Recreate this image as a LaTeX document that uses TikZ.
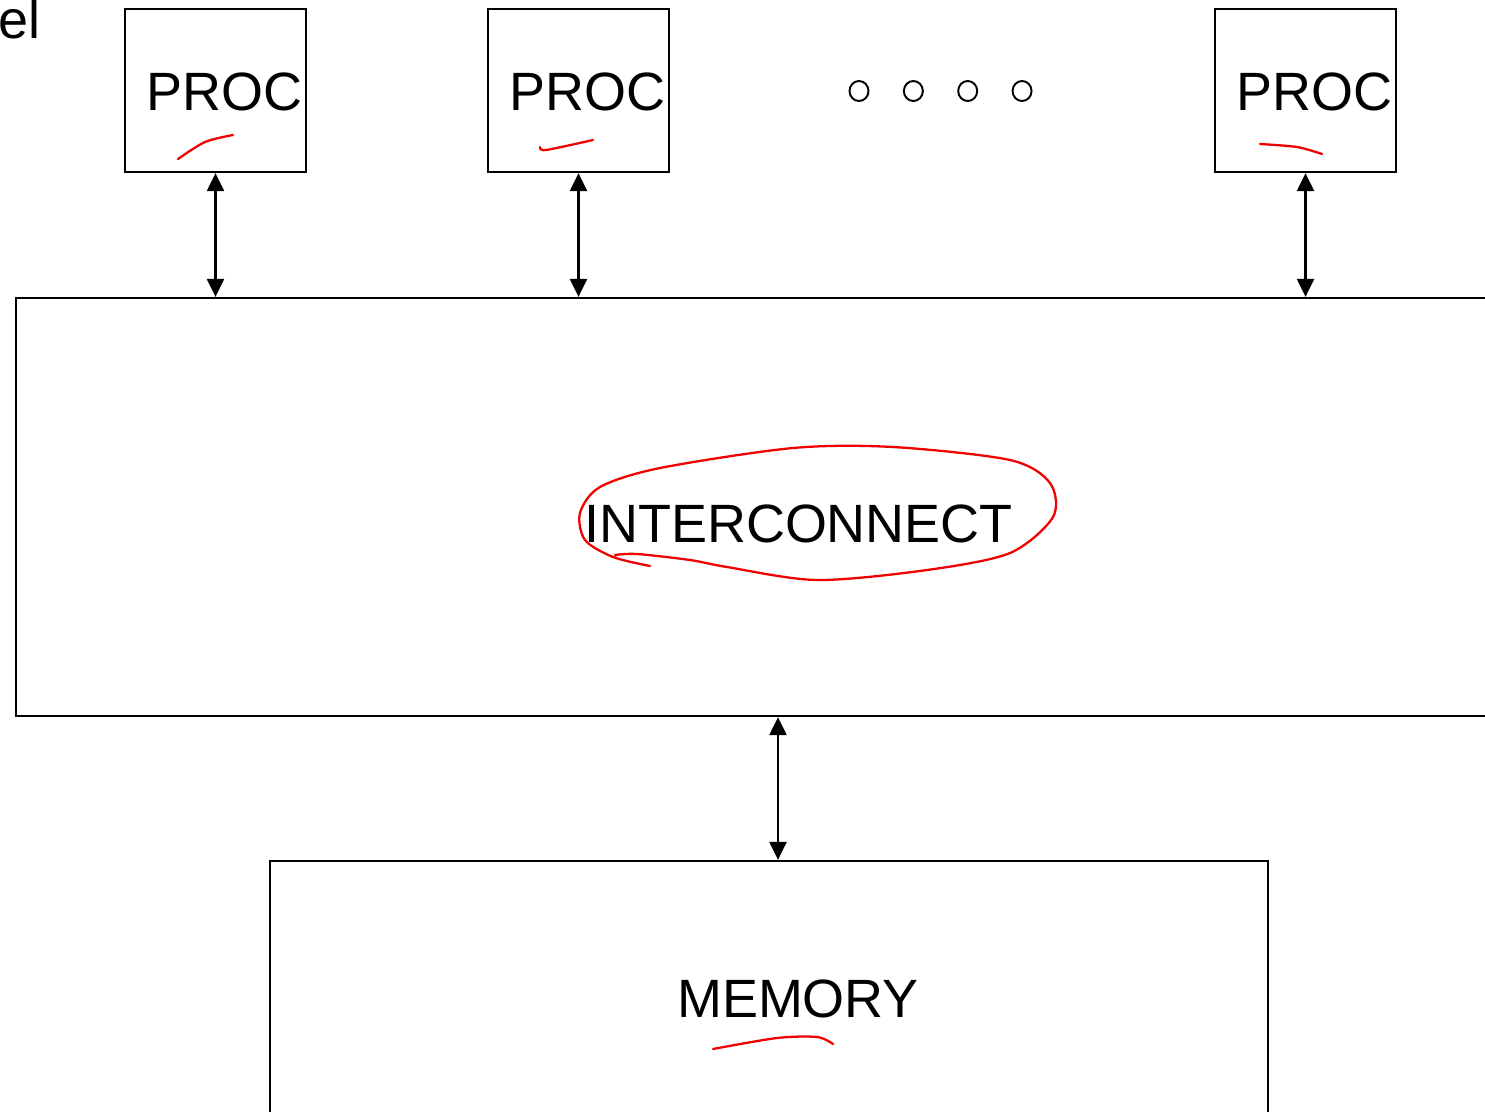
\documentclass[tikz,border=0pt]{standalone}
\usepackage{fontspec}
\setmainfont{Liberation Sans}
\usepackage{tikz}
\usetikzlibrary{arrows.meta,positioning,calc}
\definecolor{penred}{RGB}{240,0,0}

\begin{document}
\begin{tikzpicture}[font=\fontsize{30.7}{36}\selectfont,
    box/.style={draw, line width=1.3pt, inner sep=0pt},
    procbox/.style={box, minimum width=3.62cm, minimum height=3.26cm},
    lbl/.style={inner sep=0pt, anchor=base},
    biarrow/.style={line width=1.3pt, {Triangle[length=0.36cm,width=0.34cm]}-{Triangle[length=0.36cm,width=0.34cm]}},
    pen/.style={draw=penred, line width=1.3pt, line cap=round, line join=round}]
  \clip (0,0) rectangle (29.7,-22.22);

  % Title remnant
  \node[lbl, anchor=base west] (title) at (-0.04,-0.76) {el};

  % Interconnect and memory
  \node[box, minimum width=31.28cm, minimum height=8.36cm] (ic) at (15.96,-10.14) {};
  \node[lbl] (ict) at (15.97,-10.84) {INTERCONNECT};
  \node[box, minimum width=19.96cm, minimum height=8.4cm] (mem) at (15.38,-21.42) {};
  \node[lbl] (memt) at (15.96,-20.34) {MEMORY};
  \draw[biarrow] ([xshift=0.18cm]mem.north) -- ([xshift=0.18cm]mem.north |- ic.south);

  % Processors
  \foreach \x/\n in {4.31/p1, 11.57/p2, 26.11/p3}{
    \node[procbox] (\n) at (\x,-1.81) {};
    \node[lbl] (\n t) at (\x+0.18,-2.2) {PROC};
    \draw[biarrow] (\n.south) -- (\n.south |- ic.north);
  }
  % Dots
  \foreach \i in {0,...,3}{
    \draw[line width=1.1pt] (17.18+\i*1.087,-1.82) ellipse (0.19 and 0.2);
  }

  % Pen marks
  \draw[pen] plot[smooth] coordinates {(3.56,-3.18) (4.1,-2.84) (4.66,-2.7)};
  \draw[pen] plot[smooth] coordinates {(10.8,-2.94) (10.92,-3.0) (11.86,-2.8)};
  \draw[pen] plot[smooth] coordinates {(25.2,-2.88) (25.94,-2.94) (26.44,-3.08)};
  \draw[pen] plot[smooth] coordinates {(12.3,-11.1) (12.74,-11.08) (13.8,-11.2)
    (14.54,-11.34) (16.34,-11.6) (18.54,-11.4) (20.2,-11.06) (21.06,-10.34)
    (21.0,-9.66) (20.2,-9.2) (17.86,-8.94) (15.86,-8.96) (13.2,-9.36)
    (12.0,-9.74) (11.6,-10.26) (11.7,-10.8) (12.26,-11.14) (13.0,-11.32)};
  \draw[pen] plot[smooth] coordinates {(14.26,-20.98) (15.54,-20.76) (16.34,-20.74) (16.66,-20.88)};
\end{tikzpicture}
\end{document}
